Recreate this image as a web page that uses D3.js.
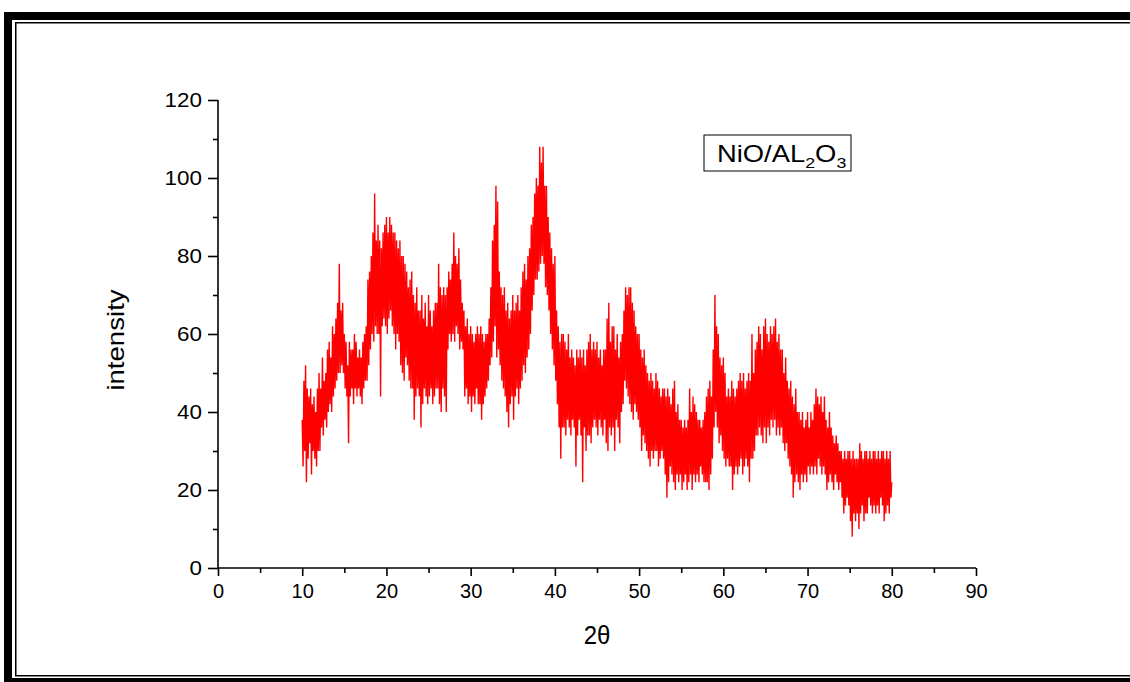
<!DOCTYPE html>
<html>
<head>
<meta charset="utf-8">
<script src="https://cdn.jsdelivr.net/npm/d3@7"></script>
<style>
  html, body { margin: 0; padding: 0; background: #fff; }
  svg { display: block; }
</style>
</head>
<body>
<svg id="chart" width="1130" height="682"></svg>
<script>
// ---- data ----
const xTickValues = [0, 10, 20, 30, 40, 50, 60, 70, 80, 90];
const yTickValues = [0, 20, 40, 60, 80, 100, 120];
const xMinorTicks = [5, 15, 25, 35, 45, 55, 65, 75, 85];
const yMinorTicks = [10, 30, 50, 70, 90, 110];
const xLabel = "2θ";
const yLabel = "intensity";
const seriesName = ["NiO/AL", "2", "O", "3"];

const startAngle = 10;   // 2θ of first sample
const stepAngle = 0.1;   // 2θ step between samples
// intensity read from the pattern, 10.0 .. 80.0 (10 samples per degree)
const intensity = [
  38,26,48,30,52,22,46,28,44,32,   46,24,42,30,44,28,40,26,46,30,
  50,30,46,36,54,34,48,38,50,36,   56,40,58,42,54,40,62,44,60,46,
  64,48,68,50,78,50,66,52,68,50,   60,46,58,44,52,32,58,44,56,46,
  56,42,60,46,58,44,54,46,56,44,   54,42,58,46,60,48,62,48,74,52,
  76,56,80,60,86,58,96,62,84,60,   88,60,84,44,82,62,86,64,88,62,
  90,60,86,64,90,66,88,62,86,60,   86,56,84,60,82,58,84,52,80,50,
  80,48,78,54,76,52,72,48,74,46,   76,46,70,38,68,44,72,46,66,44,
  66,36,70,42,64,46,68,44,62,42,   70,44,66,46,62,42,66,44,68,46,
  68,46,78,42,72,40,70,46,72,44,   70,40,72,56,76,60,74,58,78,60,
  86,58,80,62,78,60,82,56,74,58,   68,56,66,44,62,46,64,42,60,44,
  62,40,60,44,58,42,60,46,62,42,   60,42,62,38,60,42,58,44,60,46,
  60,48,64,52,72,54,84,58,88,62,   98,54,94,56,76,52,72,48,70,46,
  72,44,66,40,68,36,64,42,66,44,   70,38,66,44,68,46,70,42,66,46,
  72,48,76,52,78,50,74,54,80,56,   82,60,88,66,90,70,96,74,100,74,
  98,76,108,78,104,80,108,78,98,72, 98,70,90,66,86,60,82,56,78,52,
  80,48,66,42,62,36,58,28,60,36,   60,36,58,34,56,38,60,36,54,34,
  56,38,54,36,52,26,56,34,54,38,   56,34,54,22,56,36,52,30,56,34,
  58,34,60,32,56,36,58,38,56,36,   58,34,54,38,56,36,52,34,56,38,
  56,32,64,30,68,36,58,34,62,36,   62,30,56,38,60,36,54,32,58,40,
  60,42,66,48,72,46,70,44,72,42,   72,40,68,38,66,42,62,40,60,38,
  60,36,56,30,54,34,56,32,52,30,   50,28,48,26,50,30,48,28,46,30,
  50,30,48,26,46,28,44,30,46,28,   46,24,44,18,46,22,44,26,42,24,
  46,22,48,20,40,24,42,22,38,24,   38,20,36,22,38,24,36,20,38,22,
  46,24,40,20,44,24,42,22,40,24,   38,22,38,26,36,24,38,22,40,22,
  44,22,46,20,48,24,44,28,56,36,   70,40,62,36,60,32,54,34,52,30,
  54,28,50,26,44,28,46,26,44,26,   48,20,46,24,44,26,46,24,48,26,
  50,28,48,24,50,26,46,28,48,26,   50,22,48,28,60,28,50,30,56,34,
  58,34,62,36,60,34,56,32,62,36,   64,32,60,36,58,34,62,38,60,36,
  62,38,64,34,58,36,60,34,56,36,   56,32,50,30,54,32,48,28,46,26,
  48,24,44,18,42,22,46,24,40,22,   40,20,38,24,40,22,36,24,38,22,
  40,26,36,24,40,26,38,24,42,26,   46,24,44,28,42,26,44,24,40,26,
  44,24,38,20,36,22,40,24,36,22,   34,20,32,24,34,22,32,20,30,22,
  30,18,28,14,30,16,28,18,30,16,   30,12,28,8,30,14,28,12,28,14,
  28,10,32,14,30,16,28,12,30,14,   30,14,28,18,30,16,28,14,30,16,
  30,14,28,16,30,14,28,18,30,16,   30,12,28,14,30,16,28,14,30,18,
  22
];

const W = 1130, H = 682;
const svg = d3.select("#chart");

// ---- page frame (thick-thin border) ----
const frame = svg.append("g").attr("fill", "#000");
frame.append("rect").attr("x", 4).attr("y", 12).attr("width", W - 4).attr("height", 8);
frame.append("rect").attr("x", 15).attr("y", 22).attr("width", W - 15).attr("height", 1.5);
frame.append("rect").attr("x", 4).attr("y", 12).attr("width", 8).attr("height", H - 12);
frame.append("rect").attr("x", 15).attr("y", 22).attr("width", 1.5).attr("height", 654);
frame.append("rect").attr("x", 4).attr("y", 678).attr("width", W - 4).attr("height", 4);
frame.append("rect").attr("x", 15).attr("y", 675).attr("width", W - 15).attr("height", 1.5);

// ---- scales ----
const x = d3.scaleLinear().domain([0, 90]).range([218, 976]);
const y = d3.scaleLinear().domain([0, 120]).range([568, 100]);

// ---- data line ----
const pts = intensity.map((v, i) => [startAngle + i * stepAngle, v]);
const line = d3.line().x(d => x(d[0])).y(d => y(d[1]));
svg.append("path")
  .datum(pts)
  .attr("d", line)
  .attr("fill", "none")
  .attr("stroke", "#ff0000")
  .attr("stroke-width", 1.4)
  .attr("stroke-linejoin", "bevel");

// ---- axes ----
const font = "'Liberation Sans', Arial, sans-serif";
const gx = svg.append("g").attr("transform", `translate(0,${y(0)})`)
  .call(d3.axisBottom(x).tickValues(xTickValues).tickSize(8).tickPadding(8).tickFormat(d3.format("d")));
svg.append("g").attr("transform", `translate(0,${y(0)})`)
  .call(d3.axisBottom(x).tickValues(xMinorTicks).tickSize(5).tickFormat(""))
  .call(g => g.select(".domain").remove());

const gy = svg.append("g").attr("transform", `translate(${x(0)},0)`)
  .call(d3.axisLeft(y).tickValues(yTickValues).tickSize(10).tickPadding(6).tickFormat(d3.format("d")));
svg.append("g").attr("transform", `translate(${x(0)},0)`)
  .call(d3.axisLeft(y).tickValues(yMinorTicks).tickSize(5).tickFormat(""))
  .call(g => g.select(".domain").remove());

svg.selectAll(".domain").attr("stroke", "#000").attr("stroke-width", 1.6);
svg.selectAll(".tick line").attr("stroke", "#000").attr("stroke-width", 1.6);
gx.selectAll(".tick text").attr("font-family", font).attr("font-size", 20).attr("fill", "#000");
// y labels: wider glyphs as in the reference
gy.selectAll(".tick text")
  .attr("font-family", font).attr("font-size", 19.5).attr("fill", "#000")
  .attr("x", null)
  .attr("transform", "translate(-16,0) scale(1.15,1)");
gx.select(".domain").attr("d", `M${x(0)},0H${x(90)}`);
gy.select(".domain").attr("d", `M0,${y(0)}V${y(120)}`);

// ---- axis titles ----
svg.append("text")
  .attr("transform", "translate(597,644) scale(1,1.1)")
  .attr("text-anchor", "middle")
  .attr("font-family", font).attr("font-size", 24)
  .text(xLabel);

svg.append("text")
  .attr("transform", "translate(124,340) rotate(-90) scale(1.2,1)")
  .attr("text-anchor", "middle")
  .attr("font-family", font).attr("font-size", 23)
  .text(yLabel);

// ---- legend box ----
svg.append("rect")
  .attr("x", 704).attr("y", 135).attr("width", 147).attr("height", 36)
  .attr("fill", "#fff").attr("stroke", "#000").attr("stroke-width", 1);
const lt = svg.append("text")
  .attr("transform", "translate(717,162) scale(1.19,1)")
  .attr("font-family", font).attr("font-size", 23).attr("fill", "#000");
lt.append("tspan").text(seriesName[0]);
lt.append("tspan").attr("dy", 6).attr("font-size", 15).text(seriesName[1]);
lt.append("tspan").attr("dy", -6).text(seriesName[2]);
lt.append("tspan").attr("dy", 6).attr("font-size", 15).text(seriesName[3]);
</script>
</body>
</html>
